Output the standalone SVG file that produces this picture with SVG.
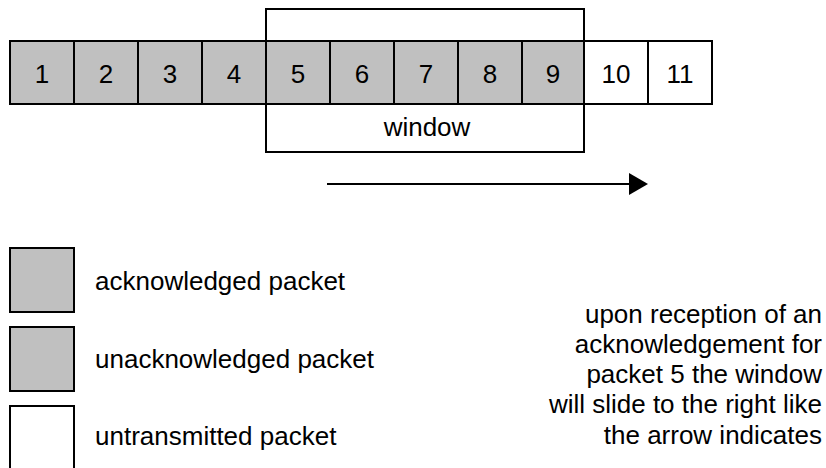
<svg xmlns="http://www.w3.org/2000/svg" width="826" height="468" viewBox="0 0 826 468">
  <style>
    .cell { stroke: #000; stroke-width: 2; }
    .acked { fill: #c0c0c0; }
    .sent { fill: #c0c0c0; }
    .free { fill: #fff; }
    text { font-family: "Liberation Sans", Arial, sans-serif; font-size: 26px; fill: #000; }
    .num { text-anchor: middle; }
    .note { text-anchor: end; }
  </style>
  <rect width="826" height="468" fill="#fff"/>

  <!-- packet sequence -->
  <g id="p1"><rect class="cell acked" x="10" y="41" width="64" height="63"/><text class="num" x="42" y="83">1</text></g>
  <g id="p2"><rect class="cell acked" x="74" y="41" width="64" height="63"/><text class="num" x="106" y="83">2</text></g>
  <g id="p3"><rect class="cell acked" x="138" y="41" width="64" height="63"/><text class="num" x="170" y="83">3</text></g>
  <g id="p4"><rect class="cell acked" x="202" y="41" width="64" height="63"/><text class="num" x="234" y="83">4</text></g>
  <g id="p5"><rect class="cell sent" x="266" y="41" width="64" height="63"/><text class="num" x="298" y="83">5</text></g>
  <g id="p6"><rect class="cell sent" x="330" y="41" width="64" height="63"/><text class="num" x="362" y="83">6</text></g>
  <g id="p7"><rect class="cell sent" x="394" y="41" width="64" height="63"/><text class="num" x="426" y="83">7</text></g>
  <g id="p8"><rect class="cell sent" x="458" y="41" width="64" height="63"/><text class="num" x="490" y="83">8</text></g>
  <g id="p9"><rect class="cell sent" x="522" y="41" width="62" height="63"/><text class="num" x="553" y="83">9</text></g>
  <g id="p10"><rect class="cell free" x="584" y="41" width="64" height="63"/><text class="num" x="616" y="83">10</text></g>
  <g id="p11"><rect class="cell free" x="648" y="41" width="64" height="63"/><text class="num" x="680" y="83">11</text></g>

  <!-- sliding window frame -->
  <g id="window">
    <rect x="266" y="9" width="318" height="143" fill="none" stroke="#000" stroke-width="2"/>
    <text class="num" x="427" y="136">window</text>
  </g>

  <!-- slide direction -->
  <g id="connectors">
    <line x1="327" y1="184" x2="630" y2="184" stroke="#000" stroke-width="2"/>
    <polygon points="629,173 648,184 629,195" fill="#000"/>
  </g>

  <!-- legend -->
  <g id="legend-acked">
    <rect class="cell acked" x="10" y="248" width="64" height="64"/>
    <text x="95" y="290">acknowledged packet</text>
  </g>
  <g id="legend-sent">
    <rect class="cell sent" x="10" y="327" width="64" height="64"/>
    <text x="95" y="368">unacknowledged packet</text>
  </g>
  <g id="legend-free">
    <rect class="cell free" x="10" y="406" width="64" height="70"/>
    <text x="95" y="445">untransmitted packet</text>
  </g>

  <!-- explanation -->
  <g id="note">
    <text class="note" x="822" y="323">upon reception of an</text>
    <text class="note" x="822" y="353">acknowledgement for</text>
    <text class="note" x="822" y="383">packet 5 the window</text>
    <text class="note" x="822" y="413">will slide to the right like</text>
    <text class="note" x="822" y="444">the arrow indicates</text>
  </g>
</svg>
